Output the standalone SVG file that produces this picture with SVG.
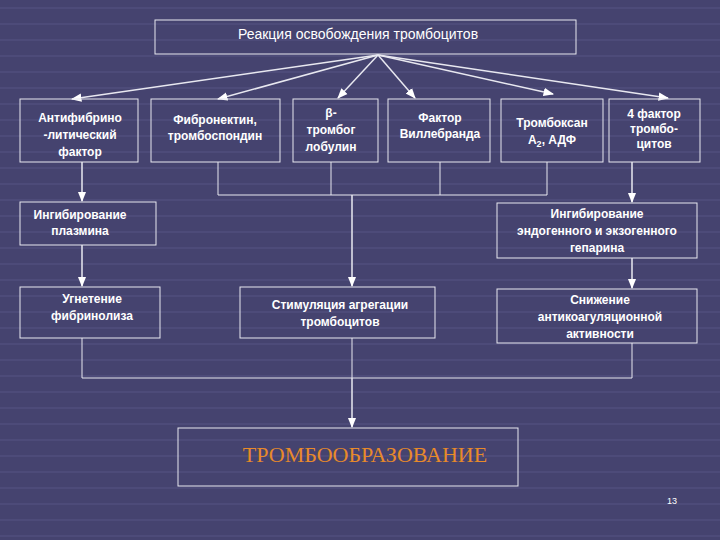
<svg xmlns="http://www.w3.org/2000/svg" width="720" height="540" viewBox="0 0 720 540">
<defs>
<style>
.b{fill:none;stroke:#e8e8f0;stroke-width:1}
.t{font-family:"Liberation Sans",Arial,sans-serif;font-size:12px;fill:#ffffff;text-anchor:middle;font-weight:bold}
.c{fill:none;stroke:#e8e8f0;stroke-width:1.5}
</style>
<marker id="a" viewBox="0 0 10 10" refX="9" refY="5" markerWidth="7" markerHeight="7" orient="auto-start-reverse"><path d="M0,1 L10,5 L0,9 z" fill="#ffffff"/></marker>
<pattern id="g" width="60" height="16" patternUnits="userSpaceOnUse"><rect width="60" height="16" fill="#45436f"/><line x1="0" y1="8" x2="60" y2="8" stroke="#504e7c" stroke-width="1.5"/></pattern>
</defs>
<rect width="720" height="540" fill="url(#g)"/>
<g id="connectors">
<path class="c" marker-end="url(#a)" d="M378,55 L72,99"/>
<path class="c" marker-end="url(#a)" d="M378,55 L218,99"/>
<path class="c" marker-end="url(#a)" d="M378,55 L338,98"/>
<path class="c" marker-end="url(#a)" d="M378,55 L415,98"/>
<path class="c" marker-end="url(#a)" d="M378,55 L553,94"/>
<path class="c" marker-end="url(#a)" d="M378,55 L668,98"/>
<path class="b" d="M218,162 V195 M331,162 V195 M440,162 V195 M547,162 V195 M218,195 H547"/>
<path class="c" marker-end="url(#a)" d="M352,195 V286"/>
<path class="c" marker-end="url(#a)" d="M82,162 V201"/>
<path class="c" marker-end="url(#a)" d="M82,245 V286"/>
<path class="c" marker-end="url(#a)" d="M632,162 V202"/>
<path class="c" marker-end="url(#a)" d="M632,258 V288"/>
<path class="b" d="M82,338 V378 H632 V343 M352,338 V378"/>
<path class="c" marker-end="url(#a)" d="M352,378 V427"/>
</g>
<g id="title"><rect class="b" x="155" y="20" width="421" height="34"/><text class="t" x="358" y="39" style="font-size:14px;font-weight:normal">Реакция освобождения тромбоцитов</text></g>
<g id="n1"><rect class="b" x="20" y="99" width="118" height="63"/><text class="t" x="80" y="122">Антифибрино</text><text class="t" x="80" y="139">-литический</text><text class="t" x="80" y="156">фактор</text></g>
<g id="n2"><rect class="b" x="151" y="99" width="129" height="63"/><text class="t" x="215" y="124">Фибронектин,</text><text class="t" x="215" y="140">тромбоспондин</text></g>
<g id="n3"><rect class="b" x="293" y="99" width="85" height="63"/><text class="t" x="331" y="117">β-</text><text class="t" x="331" y="134">тромбог</text><text class="t" x="331" y="151">лобулин</text></g>
<g id="n4"><rect class="b" x="388" y="99" width="102" height="63"/><text class="t" x="440" y="122">Фактор</text><text class="t" x="440" y="138">Виллебранда</text></g>
<g id="n5"><rect class="b" x="501" y="99" width="102" height="63"/><text class="t" x="552" y="127">Тромбоксан</text><text class="t" x="552" y="144">А<tspan font-size="9" dy="3">2</tspan><tspan dy="-3">, АДФ</tspan></text></g>
<g id="n6"><rect class="b" x="609" y="99" width="91" height="63"/><text class="t" x="654" y="118">4 фактор</text><text class="t" x="654" y="133">тромбо-</text><text class="t" x="654" y="148">цитов</text></g>
<g id="n7"><rect class="b" x="20" y="202" width="136" height="43"/><text class="t" x="80" y="219">Ингибирование</text><text class="t" x="80" y="235">плазмина</text></g>
<g id="n8"><rect class="b" x="497" y="203" width="200" height="55"/><text class="t" x="597" y="218">Ингибирование</text><text class="t" x="597" y="235">эндогенного и экзогенного</text><text class="t" x="597" y="252">гепарина</text></g>
<g id="n9"><rect class="b" x="20" y="287" width="140" height="51"/><text class="t" x="92" y="303">Угнетение</text><text class="t" x="92" y="320">фибринолиза</text></g>
<g id="n10"><rect class="b" x="240" y="287" width="195" height="51"/><text class="t" x="340" y="309">Стимуляция агрегации</text><text class="t" x="340" y="326">тромбоцитов</text></g>
<g id="n11"><rect class="b" x="497" y="289" width="200" height="54"/><text class="t" x="600" y="304">Снижение</text><text class="t" x="600" y="321">антикоагуляционной</text><text class="t" x="600" y="338">активности</text></g>
<g id="n12"><rect class="b" x="178" y="428" width="340" height="58"/><text x="365" y="462" style="font-family:'Liberation Serif','Times New Roman',serif;font-size:22px;fill:#e88a2a;text-anchor:middle">ТРОМБООБРАЗОВАНИЕ</text></g>
<text x="672" y="504" style="font-family:'Liberation Sans',Arial,sans-serif;font-size:9px;fill:#ffffff;text-anchor:middle">13</text>
</svg>
